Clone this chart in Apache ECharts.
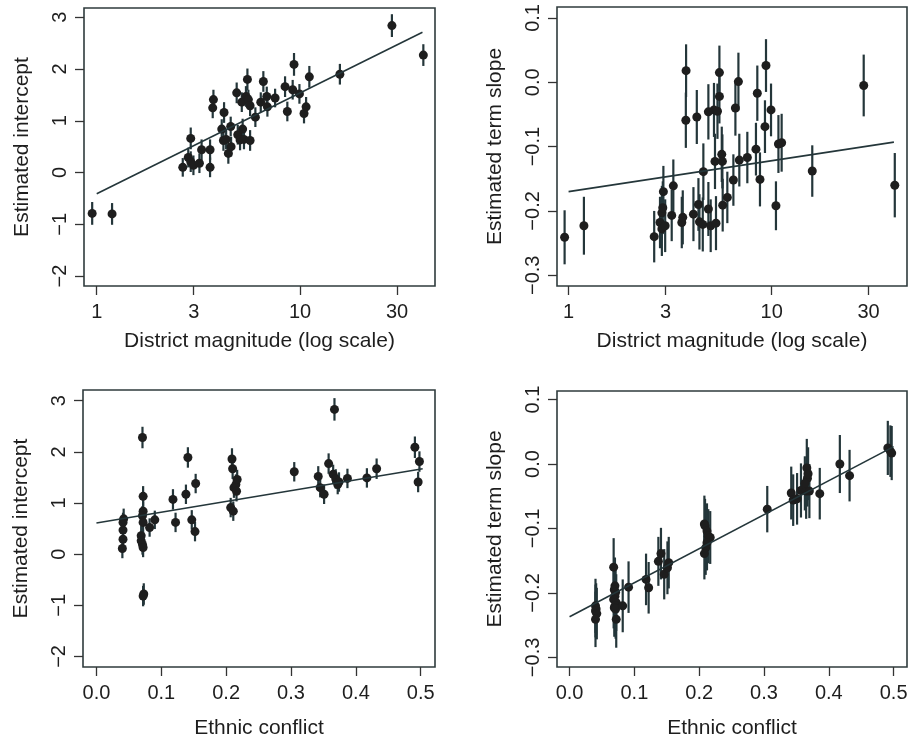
<!DOCTYPE html>
<html><head><meta charset="utf-8">
<script src="https://cdn.jsdelivr.net/npm/echarts@6/dist/echarts.min.js"></script>
<style>html,body{margin:0;padding:0;background:#fff}#c{width:911px;height:740px}</style>
</head><body><div id="c"></div>
<script>
// ---- Panel A: intercept vs district magnitude ----
const magA = [0.95,1.19,2.65,2.82,2.90,2.90,2.99,3.20,3.28,3.61,3.61,3.72,3.75,4.12,4.23,4.20,4.33,4.44,4.56,4.58,4.88,4.94,5.07,5.17,5.22,5.30,5.42,5.51,5.57,5.68,5.68,6.03,6.41,6.60,6.86,6.91,7.54,8.44,8.66,9.20,9.34,9.93,10.46,10.71,11.11,15.7,28.3,40.4];
const interceptA = [-0.79,-0.80,0.10,0.29,0.66,0.21,0.14,0.18,0.44,0.44,0.10,1.25,1.41,0.84,1.16,0.62,0.64,0.37,0.89,0.50,1.54,0.73,0.63,1.36,0.84,0.64,1.47,1.80,1.41,1.29,0.62,1.07,1.36,1.76,1.47,1.27,1.44,1.66,1.18,1.60,2.09,1.52,1.14,1.27,1.85,1.90,2.84,2.27];
const interceptSeA = [0.22,0.21,0.18,0.19,0.21,0.20,0.19,0.19,0.20,0.20,0.19,0.20,0.19,0.19,0.20,0.20,0.19,0.20,0.19,0.19,0.20,0.19,0.20,0.19,0.20,0.19,0.20,0.21,0.19,0.20,0.20,0.19,0.19,0.20,0.19,0.19,0.18,0.20,0.19,0.19,0.22,0.19,0.19,0.19,0.21,0.20,0.22,0.21];
const fitMagA = [1, 40];
const fitInterceptA = [-0.41, 2.71];

// ---- Panel B: term slope vs district magnitude ----
const magB = [0.956,1.19,2.64,2.82,2.88,2.91,2.93,2.88,2.99,3.22,3.28,3.61,3.65,3.78,3.79,4.12,4.28,4.36,4.41,4.58,4.61,4.88,4.88,5.01,5.20,5.26,5.32,5.41,5.53,5.53,5.68,5.72,5.74,6.05,6.48,6.63,6.86,6.93,7.59,8.37,8.50,8.76,9.27,9.38,9.93,10.5,10.8,11.2,15.85,28.4,40.4];
const slopeB = [-0.241,-0.223,-0.240,-0.218,-0.203,-0.195,-0.170,-0.228,-0.223,-0.207,-0.161,-0.218,-0.210,-0.059,0.018,-0.205,-0.054,-0.190,-0.217,-0.221,-0.139,-0.046,-0.197,-0.223,-0.043,-0.123,-0.219,-0.045,-0.022,0.015,-0.112,-0.123,-0.191,-0.179,-0.152,-0.040,0.001,-0.121,-0.117,-0.104,-0.017,-0.151,-0.069,0.026,-0.043,-0.192,-0.096,-0.094,-0.138,-0.005,-0.160];
const slopeSeB = [0.042,0.045,0.040,0.040,0.042,0.041,0.040,0.042,0.041,0.040,0.041,0.040,0.042,0.043,0.041,0.042,0.042,0.041,0.043,0.042,0.044,0.043,0.042,0.041,0.042,0.043,0.042,0.043,0.042,0.042,0.043,0.042,0.041,0.040,0.040,0.043,0.045,0.041,0.040,0.041,0.043,0.042,0.041,0.041,0.041,0.038,0.045,0.045,0.040,0.048,0.050];
const fitMagB = [1, 40];
const fitSlopeB = [-0.170, -0.093];

// ---- Panel C: intercept vs ethnic conflict ----
const ethC = [0.040,0.041,0.041,0.041,0.042,0.071,0.072,0.072,0.071,0.072,0.069,0.069,0.071,0.072,0.073,0.072,0.082,0.090,0.118,0.122,0.138,0.141,0.147,0.152,0.153,0.207,0.209,0.210,0.211,0.212,0.215,0.217,0.216,0.305,0.342,0.345,0.351,0.358,0.365,0.367,0.369,0.372,0.374,0.387,0.417,0.432,0.491,0.498,0.496];
const interceptC = [0.11,0.29,0.47,0.62,0.69,2.28,1.13,0.84,0.75,0.62,0.36,0.26,0.19,0.13,-0.78,-0.82,0.52,0.67,1.07,0.62,1.17,1.89,0.67,0.44,1.38,0.91,1.86,1.67,0.84,1.30,1.36,1.46,1.23,1.61,1.52,1.30,1.17,1.77,1.56,2.83,1.47,1.36,1.41,1.48,1.49,1.67,2.09,1.81,1.41];
const interceptSeC = [0.19,0.19,0.20,0.19,0.20,0.21,0.20,0.19,0.19,0.20,0.19,0.19,0.20,0.19,0.21,0.20,0.18,0.18,0.20,0.19,0.19,0.20,0.19,0.19,0.19,0.19,0.21,0.20,0.19,0.20,0.20,0.19,0.20,0.19,0.20,0.19,0.19,0.20,0.19,0.22,0.19,0.19,0.19,0.19,0.19,0.20,0.21,0.20,0.20];
const fitEthC = [0, 0.503];
const fitInterceptC = [0.61, 1.67];

// ---- Panel D: term slope vs ethnic conflict ----
const ethD = [0.040,0.041,0.040,0.042,0.040,0.068,0.070,0.069,0.071,0.070,0.068,0.072,0.070,0.069,0.072,0.071,0.082,0.091,0.118,0.122,0.137,0.141,0.146,0.151,0.153,0.208,0.209,0.212,0.214,0.217,0.212,0.210,0.208,0.305,0.342,0.345,0.351,0.357,0.366,0.367,0.365,0.370,0.363,0.368,0.386,0.417,0.432,0.491,0.497,0.495];
const slopeD = [-0.220,-0.225,-0.228,-0.232,-0.241,-0.160,-0.189,-0.195,-0.199,-0.205,-0.210,-0.215,-0.220,-0.223,-0.241,-0.225,-0.220,-0.191,-0.179,-0.192,-0.151,-0.139,-0.171,-0.161,-0.153,-0.093,-0.096,-0.104,-0.112,-0.114,-0.122,-0.130,-0.139,-0.070,-0.045,-0.056,-0.054,-0.041,-0.006,-0.022,-0.042,-0.042,-0.030,-0.015,-0.046,0.000,-0.018,0.025,0.017,0.020];
const slopeSeD = [0.042,0.040,0.041,0.040,0.043,0.045,0.044,0.046,0.044,0.043,0.045,0.044,0.043,0.045,0.044,0.046,0.041,0.040,0.040,0.040,0.038,0.040,0.039,0.041,0.040,0.044,0.042,0.043,0.042,0.041,0.043,0.042,0.040,0.036,0.041,0.040,0.040,0.042,0.045,0.044,0.043,0.042,0.042,0.041,0.040,0.045,0.040,0.042,0.042,0.040];
const fitEthD = [0, 0.5];
const fitSlopeD = [-0.237, 0.027];

const magTicks = [1, 3, 10, 30];
const ethTicks = [0, 0.1, 0.2, 0.3, 0.4, 0.5];
const interceptTicks = [-2, -1, 0, 1, 2, 3];
const slopeTicks = [-0.3, -0.2, -0.1, 0, 0.1];

const FONT = '"Liberation Sans", Arial, Helvetica, sans-serif';
const INK = '#1e1e1e';
const BAR = '#24363a';
const minus = s => s.replace('-', '\u2212');

const grids = [
  {left: 84, top: 8, width: 351, height: 278},
  {left: 557, top: 7, width: 350, height: 279},
  {left: 83, top: 390, width: 352, height: 277},
  {left: 557, top: 391, width: 350, height: 277}
].map(g => Object.assign({show: true, borderColor: '#2f3b3d', borderWidth: 1.6, backgroundColor: 'transparent'}, g));

function xAxis(gi, type, min, max, ticks, name, fmt) {
  return {
    type, gridIndex: gi, min, max, logBase: 10, position: 'bottom',
    name, nameLocation: 'middle', nameGap: gi < 2 ? 45 : 51,
    nameTextStyle: {fontFamily: FONT, fontSize: 21, color: INK},
    splitLine: {show: false}, axisLine: {show: false, onZero: false},
    axisTick: {show: true, inside: false, length: 9, customValues: ticks, lineStyle: {color: '#333', width: 1.3}},
    axisLabel: {customValues: ticks, fontFamily: FONT, fontSize: 20, color: INK, margin: 16, formatter: fmt},
    minorTick: {show: false}
  };
}
function yAxis(gi, min, max, ticks, name, fmt) {
  return {
    type: 'value', gridIndex: gi, min, max, position: 'left',
    name, nameLocation: 'middle', nameGap: 51,
    nameTextStyle: {fontFamily: FONT, fontSize: 21, color: INK},
    splitLine: {show: false}, axisLine: {show: false, onZero: false},
    axisTick: {show: true, inside: false, length: 9, customValues: ticks, lineStyle: {color: '#333', width: 1.3}},
    axisLabel: {customValues: ticks, rotate: 90, fontFamily: FONT, fontSize: 20, color: INK, margin: 14, formatter: fmt}
  };
}
const fmtInt = v => minus(String(Math.round(v)));
const fmt1 = v => minus(Number(v).toFixed(1));
const fmtMag = v => String(Math.round(v));

function errSeries(xs, ys, se, gi) {
  return {
    type: 'custom', xAxisIndex: gi, yAxisIndex: gi, silent: true, z: 2,
    data: xs.map((x, i) => [x, ys[i] - se[i], ys[i] + se[i]]),
    encode: {x: 0, y: [1, 2]},
    renderItem: (params, api) => {
      const lo = api.coord([api.value(0), api.value(1)]);
      const hi = api.coord([api.value(0), api.value(2)]);
      return {type: 'line', shape: {x1: lo[0], y1: lo[1], x2: hi[0], y2: hi[1]}, style: {stroke: BAR, lineWidth: 2.2}};
    }
  };
}
function pointSeries(xs, ys, gi) {
  return {
    type: 'scatter', xAxisIndex: gi, yAxisIndex: gi, silent: true, z: 3,
    symbol: 'circle', symbolSize: 9, itemStyle: {color: INK, opacity: 1},
    data: xs.map((x, i) => [x, ys[i]])
  };
}
function fitSeries(xs, ys, gi) {
  return {
    type: 'line', xAxisIndex: gi, yAxisIndex: gi, silent: true, z: 4,
    symbol: 'none', lineStyle: {color: BAR, width: 1.6},
    data: xs.map((x, i) => [x, ys[i]])
  };
}

const chart = echarts.init(document.getElementById('c'));
chart.setOption({
  animation: false,
  backgroundColor: '#fff',
  grid: grids,
  xAxis: [
    xAxis(0, 'log', 0.866, 46.1, magTicks, 'District magnitude (log scale)', fmtMag),
    xAxis(1, 'log', 0.877, 46.4, magTicks, 'District magnitude (log scale)', fmtMag),
    xAxis(2, 'value', -0.0207, 0.522, ethTicks, 'Ethnic conflict', fmt1),
    xAxis(3, 'value', -0.0194, 0.5206, ethTicks, 'Ethnic conflict', fmt1)
  ],
  yAxis: [
    yAxis(0, -2.193, 3.18, interceptTicks, 'Estimated intercept', fmtInt),
    yAxis(1, -0.3167, 0.117, slopeTicks, 'Estimated term slope', fmt1),
    yAxis(2, -2.207, 3.209, interceptTicks, 'Estimated intercept', fmtInt),
    yAxis(3, -0.3149, 0.1133, slopeTicks, 'Estimated term slope', fmt1)
  ],
  series: [
    errSeries(magA, interceptA, interceptSeA, 0), pointSeries(magA, interceptA, 0), fitSeries(fitMagA, fitInterceptA, 0),
    errSeries(magB, slopeB, slopeSeB, 1), pointSeries(magB, slopeB, 1), fitSeries(fitMagB, fitSlopeB, 1),
    errSeries(ethC, interceptC, interceptSeC, 2), pointSeries(ethC, interceptC, 2), fitSeries(fitEthC, fitInterceptC, 2),
    errSeries(ethD, slopeD, slopeSeD, 3), pointSeries(ethD, slopeD, 3), fitSeries(fitEthD, fitSlopeD, 3)
  ]
});
</script></body></html>
